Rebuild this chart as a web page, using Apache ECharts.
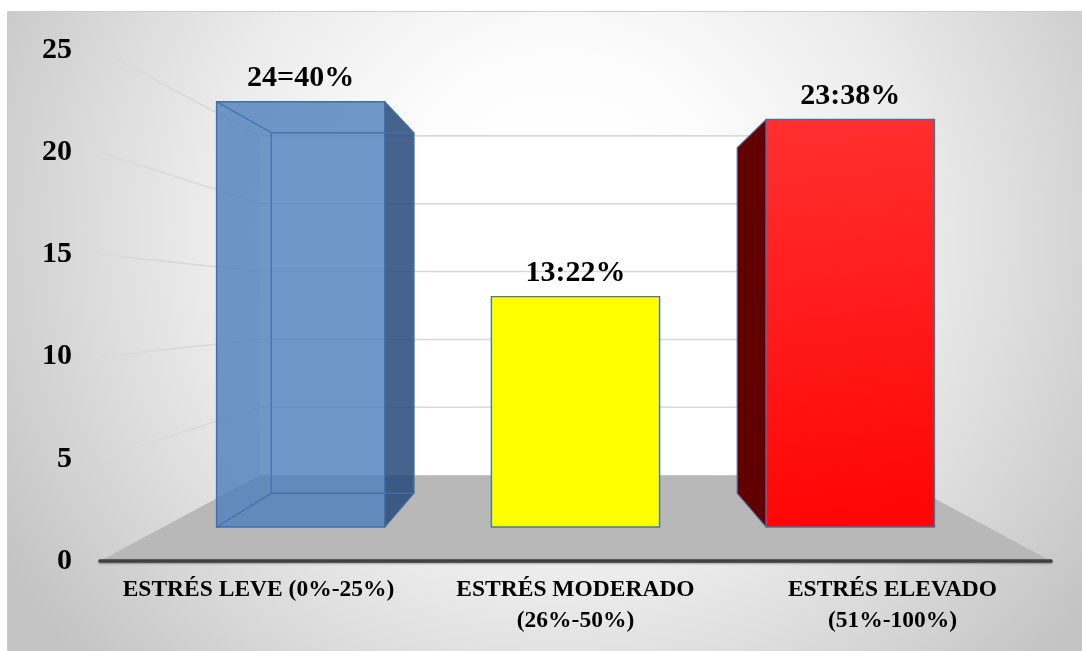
<!DOCTYPE html>
<html>
<head>
<meta charset="utf-8">
<script src="https://cdn.jsdelivr.net/npm/echarts@6/dist/echarts.min.js"></script>
<style>
  html, body { margin: 0; padding: 0; background: #ffffff; }
  #chart { width: 1082px; height: 651px; }
</style>
</head>
<body>
<div id="chart"></div>
<script>
// Niveles de estrés: número de casos por categoría
const categories = ['ESTRÉS LEVE (0%-25%)', 'ESTRÉS MODERADO\n(26%-50%)', 'ESTRÉS ELEVADO\n(51%-100%)'];
const counts = [24, 13, 23];
const countLabels = ['24=40%', '13:22%', '23:38%'];
const yTicks = [0, 5, 10, 15, 20, 25];

// Perspective: every point is pulled toward the centre of the plot area.
// 1 = front plane (axis labels), smaller = further back.
const DEPTH = { wall: 0.664, barFront: 0.867, barBack: 0.735 };
const BAR_HALF = 0.306;   // half bar width, as a fraction of the category band

const SERIF = '"Liberation Serif", "Times New Roman", serif';

const barStyles = [
  { front: 'rgba(79,129,189,0.82)', side: 'rgba(40,75,120,0.86)', edge: '#3f6fa8',
    inner: 'rgba(62,112,172,0.85)', seeThrough: true },
  { front: '#ffff00', side: '#a8a800', edge: '#4a76a8', seeThrough: false },
  { front: { type: 'linear', x: 0, y: 0, x2: 0.3, y2: 1,
             colorStops: [{ offset: 0, color: '#ff3030' }, { offset: 1, color: '#ff0505' }] },
    side: '#600000', edge: '#4a6f9c', seeThrough: false }
];

function projector(cs) {
  const vx = cs.x + cs.width / 2, vy = cs.y + cs.height / 2;
  return (x, y, s) => [vx + s * (x - vx), vy + s * (y - vy)];
}

// Walls, floor and the receding grid lines, one item per y tick
function renderScene(params, api) {
  const cs = params.coordSys;
  const proj = projector(cs);
  const v = api.value(1);
  const y = api.coord([0, v])[1];
  const xl = cs.x, xr = cs.x + cs.width;
  const w = DEPTH.wall;
  const children = [];
  if (v === yTicks[0]) {
    const yTop = api.coord([0, yTicks[yTicks.length - 1]])[1];
    const a = proj(xl, yTop, w), b = proj(xr, yTop, w), c = proj(xr, y, w), d = proj(xl, y, w);
    children.push({ type: 'polygon', z2: 0, shape: { points: [a, b, c, d] },
      style: { fill: '#ffffff' } });
    children.push({ type: 'polygon', z2: 1, shape: { points: [[xl, y], [xr, y], c, d] },
      style: { fill: '#b8b8b8' } });
  } else {
    const p = proj(xl, y, w), q = proj(xr, y, w);
    children.push({ type: 'polyline', z2: 2, shape: { points: [[xl, y], p, q] },
      style: { stroke: '#d9d9d9', lineWidth: 1.6, fill: null } });
  }
  return { type: 'group', children };
}

// 3D column: visible side face, front face, see-through inner edges and count label
function renderBar(params, api) {
  const cs = params.coordSys;
  const proj = projector(cs);
  const vx = cs.x + cs.width / 2, vy = cs.y + cs.height / 2;
  const i = api.value(0), v = api.value(1);
  const base = api.coord([i, 0]), top = api.coord([i, v]);
  const hw = api.size([1, 0])[0] * BAR_HALF;
  const xl = base[0] - hw, xr = base[0] + hw, yb = base[1], yt = top[1];
  const f = DEPTH.barFront, b = DEPTH.barBack;
  const F = { lt: proj(xl, yt, f), rt: proj(xr, yt, f), rb: proj(xr, yb, f), lb: proj(xl, yb, f) };
  const B = { lt: proj(xl, yt, b), rt: proj(xr, yt, b), rb: proj(xr, yb, b), lb: proj(xl, yb, b) };
  const st = barStyles[params.dataIndex];
  const children = [];
  const faceStyle = { fill: st.side, stroke: st.edge, lineWidth: 1.2, lineJoin: 'round' };

  if (xl > vx) children.push({ type: 'polygon', z2: 1,
    shape: { points: [F.lt, B.lt, B.lb, F.lb] }, style: faceStyle });
  if (xr < vx) children.push({ type: 'polygon', z2: 1,
    shape: { points: [F.rt, B.rt, B.rb, F.rb] }, style: faceStyle });
  if (yt > vy) children.push({ type: 'polygon', z2: 1,
    shape: { points: [F.lt, F.rt, B.rt, B.lt] }, style: faceStyle });

  children.push({ type: 'polygon', z2: 2, shape: { points: [F.lt, F.rt, F.rb, F.lb] },
    style: { fill: st.front, stroke: st.edge, lineWidth: 1.4, lineJoin: 'miter' } });

  if (st.seeThrough) {
    const inner = { stroke: st.inner, lineWidth: 1.4, fill: null };
    children.push({ type: 'polyline', z2: 3,
      shape: { points: [B.lt, B.rt, B.rb, B.lb, B.lt] }, style: inner });
    children.push({ type: 'line', z2: 3,
      shape: { x1: F.lt[0], y1: F.lt[1], x2: B.lt[0], y2: B.lt[1] }, style: inner });
    children.push({ type: 'line', z2: 3,
      shape: { x1: F.lb[0], y1: F.lb[1], x2: B.lb[0], y2: B.lb[1] }, style: inner });
  }

  children.push({ type: 'text', z2: 4, style: {
    text: countLabels[params.dataIndex],
    x: (F.lt[0] + F.rt[0]) / 2, y: F.lt[1] - 8,
    align: 'center', verticalAlign: 'bottom',
    fill: '#000000', font: 'bold 30px ' + SERIF } });

  return { type: 'group', children };
}

const chart = echarts.init(document.getElementById('chart'), null, { renderer: 'canvas' });
chart.setOption({
  animation: false,
  backgroundColor: '#ffffff',
  graphic: [{
    type: 'rect', z: -100, silent: true,
    shape: { x: 7.5, y: 11.5, width: 1100, height: 660 },
    style: {
      fill: { type: 'radial', x: 560, y: 230, r: 650, global: true,
        colorStops: [
          { offset: 0, color: '#ffffff' },
          { offset: 0.25, color: '#fdfdfd' },
          { offset: 0.55, color: '#ebebeb' },
          { offset: 0.8, color: '#d5d5d5' },
          { offset: 1, color: '#c3c3c3' }
        ] },
      stroke: '#cdcdcd', lineWidth: 1
    }
  }],
  grid: { left: 100, right: 31, top: 50, bottom: 90, outerBoundsMode: 'none' },
  xAxis: {
    type: 'category', data: categories, z: 5,
    axisTick: { show: false },
    axisLine: { show: true, lineStyle: { color: '#404040', width: 3.5,
      shadowColor: 'rgba(0,0,0,0.35)', shadowBlur: 2, shadowOffsetY: 1 } },
    axisLabel: { interval: 0, margin: 13, color: '#000000', fontFamily: SERIF,
      fontWeight: 'bold', fontSize: 23.5, lineHeight: 31, align: 'center' },
    splitLine: { show: false }
  },
  yAxis: {
    type: 'value', min: yTicks[0], max: yTicks[yTicks.length - 1], interval: yTicks[1] - yTicks[0],
    axisLine: { show: false }, axisTick: { show: false }, splitLine: { show: false },
    axisLabel: { margin: 28, color: '#000000', fontFamily: SERIF, fontWeight: 'bold', fontSize: 30 }
  },
  series: [
    { type: 'custom', name: 'escena', z: 1, silent: true, clip: false,
      renderItem: renderScene, data: yTicks.map(v => [0, v]) },
    { type: 'custom', name: 'casos', z: 2, clip: false,
      renderItem: renderBar, data: counts.map((v, i) => [i, v]) }
  ]
});
</script>
</body>
</html>
